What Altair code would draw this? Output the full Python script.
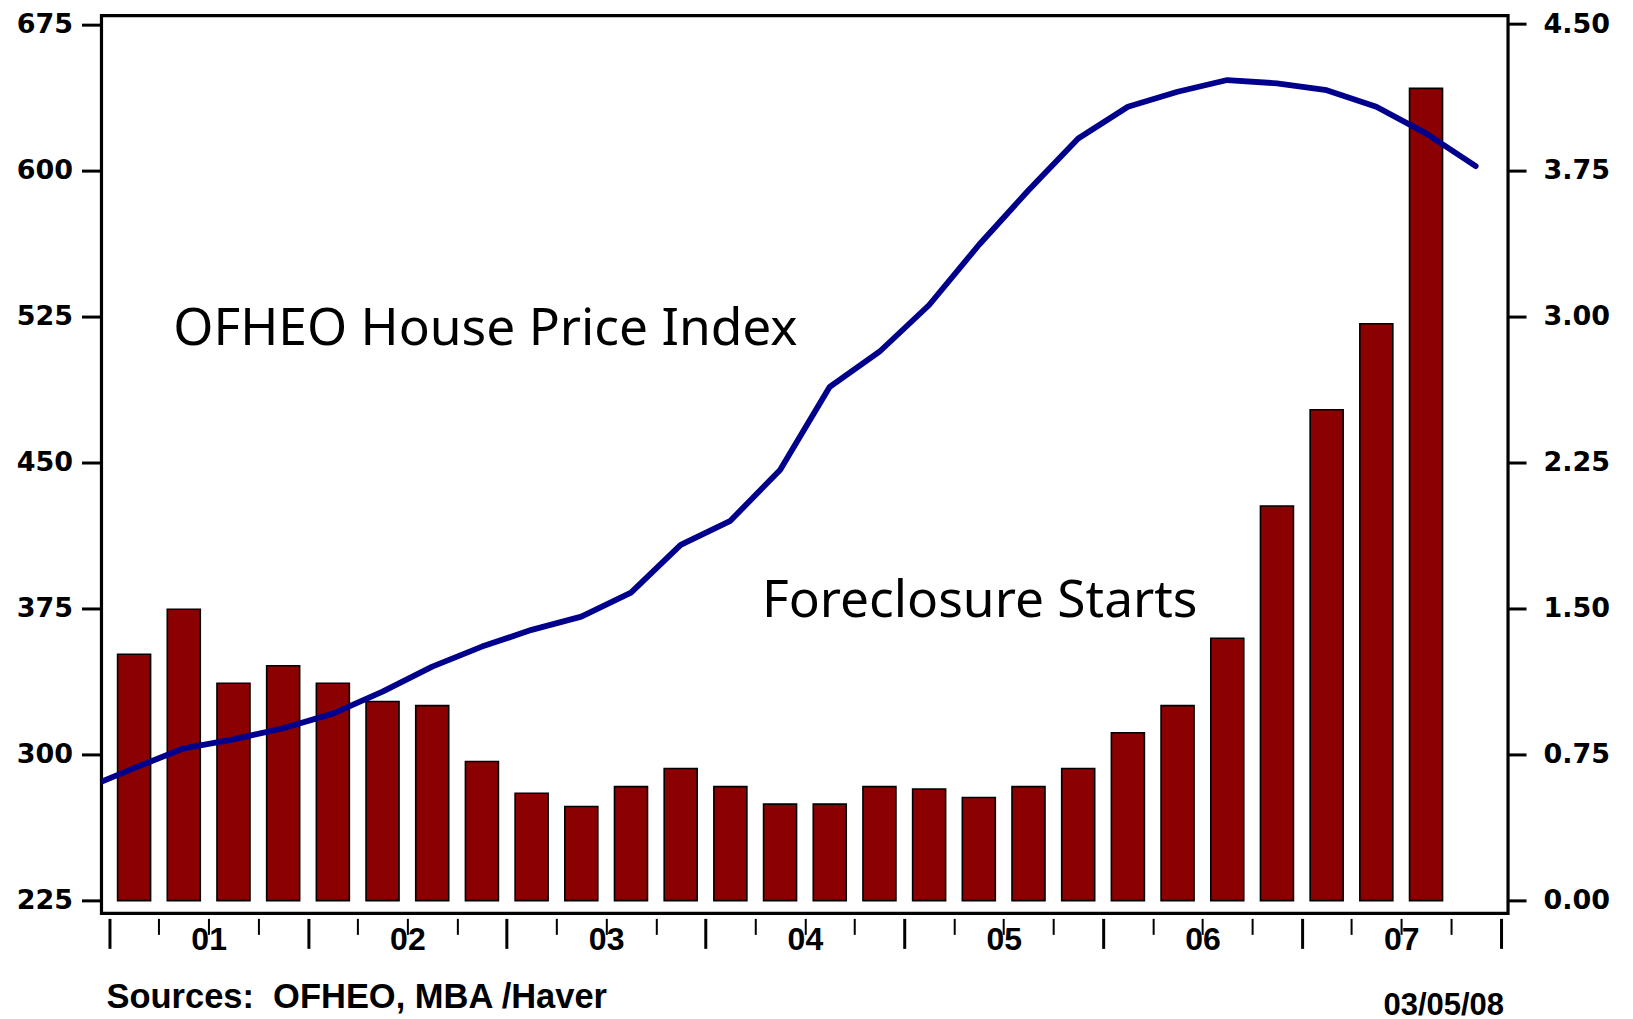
import altair as alt
import pandas as pd

# ---- data ----
bar_quarters = [
    "2001Q1", "2001Q2", "2001Q3", "2001Q4",
    "2002Q1", "2002Q2", "2002Q3", "2002Q4",
    "2003Q1", "2003Q2", "2003Q3", "2003Q4",
    "2004Q1", "2004Q2", "2004Q3", "2004Q4",
    "2005Q1", "2005Q2", "2005Q3", "2005Q4",
    "2006Q1", "2006Q2", "2006Q3", "2006Q4",
    "2007Q1", "2007Q2", "2007Q3",
]
foreclosure_starts = [
    1.265, 1.496, 1.116, 1.206,
    1.116, 1.022, 1.001, 0.714,
    0.551, 0.483, 0.585, 0.678,
    0.585, 0.495, 0.495, 0.585,
    0.573, 0.529, 0.585, 0.678,
    0.862, 1.001, 1.347, 2.026,
    2.520, 2.962, 4.170,
]

line_quarters = [
    "2000Q4",
    "2001Q1", "2001Q2", "2001Q3", "2001Q4",
    "2002Q1", "2002Q2", "2002Q3", "2002Q4",
    "2003Q1", "2003Q2", "2003Q3", "2003Q4",
    "2004Q1", "2004Q2", "2004Q3", "2004Q4",
    "2005Q1", "2005Q2", "2005Q3", "2005Q4",
    "2006Q1", "2006Q2", "2006Q3", "2006Q4",
    "2007Q1", "2007Q2", "2007Q3", "2007Q4",
]
house_price_index = [
    282.5,
    293.0, 303.2, 307.8, 313.5,
    321.0, 332.3, 345.1, 355.4,
    364.0, 370.8, 383.1, 407.6,
    420.0, 446.1, 488.8, 506.8,
    530.8, 561.6, 589.7, 616.3,
    632.6, 640.3, 646.3, 644.6,
    641.1, 632.6, 618.9, 602.1,
]

years = [2001, 2002, 2003, 2004, 2005, 2006, 2007]
year_ticks = years + [2008]
quarter_ticks = [y + q / 4 for y in years for q in (1, 2, 3)]
year_label_pos = [y + 0.5 for y in years]
left_ticks = [225, 300, 375, 450, 525, 600, 675]
right_ticks = [0.0, 0.75, 1.5, 2.25, 3.0, 3.75, 4.5]

annotations = ["OFHEO House Price Index", "Foreclosure Starts"]
source_text = "Sources:\u00a0 OFHEO, MBA /Haver"
date_text = "03/05/08"


def qpos(label):
    return int(label[:4]) + (int(label[-1]) - 0.5) / 4


bar_df = pd.DataFrame({"t": [qpos(q) for q in bar_quarters], "v": foreclosure_starts})
line_df = pd.DataFrame({"t": [qpos(q) for q in line_quarters], "v": house_price_index})
annot_df = pd.DataFrame({"label": annotations, "t": [2001.322, 2004.284], "v": [510.2, 370.5]})

W, H = 1407, 898
xscale = alt.Scale(domain=[2000.98602, 2008.01248], nice=False, zero=False)
left_scale = alt.Scale(domain=[218.43, 679.363], nice=False, zero=False)
right_scale = alt.Scale(domain=[-0.0657, 4.5436], nice=False, zero=False)

ylab = dict(labelFont="DejaVu Sans", labelFontWeight="bold", labelFontSize=27,
            labelColor="black", tickColor="black", domain=False, grid=False,
            title=None, labelOverlap=False)

bars = alt.Chart(bar_df).mark_bar(
    size=33, color="#8B0000", stroke="black", strokeWidth=1.6
).encode(
    x=alt.X("t:Q", scale=xscale,
            axis=alt.Axis(orient="bottom", values=year_ticks, tickSize=30, tickWidth=3,
                          offset=5, labels=False, domain=False, grid=False, title=None,
                          tickColor="black")),
    y=alt.Y("v:Q", scale=right_scale,
            axis=alt.Axis(orient="right", values=right_ticks, format=".2f", tickSize=18,
                          tickWidth=3, labelPadding=17, labelAlign="left", **ylab)),
    y2=alt.datum(0),
)

line = alt.Chart(line_df).mark_line(
    color="#00008C", strokeWidth=5.8, clip=True, strokeCap="round", strokeJoin="round"
).encode(
    x=alt.X("t:Q", scale=xscale,
            axis=alt.Axis(orient="bottom", values=quarter_ticks, tickSize=16, tickWidth=2,
                          offset=5, labels=False, domain=False, grid=False, title=None,
                          tickColor="black")),
    y=alt.Y("v:Q", scale=left_scale,
            axis=alt.Axis(orient="left", values=left_ticks, tickSize=20, tickWidth=3,
                          labelPadding=9, **ylab)),
)

annot = alt.Chart(annot_df).mark_text(
    font="Noto Sans", fontSize=51.5, align="left", baseline="alphabetic", color="black"
).encode(
    x=alt.X("t:Q", scale=xscale,
            axis=alt.Axis(orient="bottom", values=year_label_pos,
                          labelExpr="'0' + (floor(datum.value) - 2000)",
                          ticks=False, tickSize=0, domain=False, grid=False, title=None,
                          labelPadding=36.5, labelBaseline="alphabetic", labelAlign="center",
                          labelFlush=False, labelFont="Liberation Sans", labelFontWeight="bold",
                          labelFontSize=32, labelColor="black")),
    y=alt.Y("v:Q", scale=left_scale, axis=None),
    text="label:N",
)

foot_src = alt.Chart(pd.DataFrame({"label": [source_text]})).mark_text(
    font="Liberation Sans", fontWeight="bold", fontSize=34.5, align="left",
    baseline="alphabetic", color="black"
).encode(x=alt.value(5), y=alt.value(992.5), text="label:N")

foot_date = alt.Chart(pd.DataFrame({"label": [date_text]})).mark_text(
    font="Liberation Sans", fontWeight="bold", fontSize=31, align="right",
    baseline="alphabetic", color="black"
).encode(x=alt.value(1403), y=alt.value(999.5), text="label:N")

chart = alt.layer(bars, line, annot, foot_src, foot_date).resolve_scale(
    y="independent"
).resolve_axis(
    x="independent", y="independent"
).properties(
    width=W, height=H,
    background="white",
    padding={"left": 93.5, "top": 7.5, "right": 117, "bottom": 110},
    autosize=alt.AutoSizeParams(type="none"),
).configure_view(
    stroke="black", strokeWidth=3.2
)

chart.save("out.html", embed_options={"renderer": "svg", "actions": False})
